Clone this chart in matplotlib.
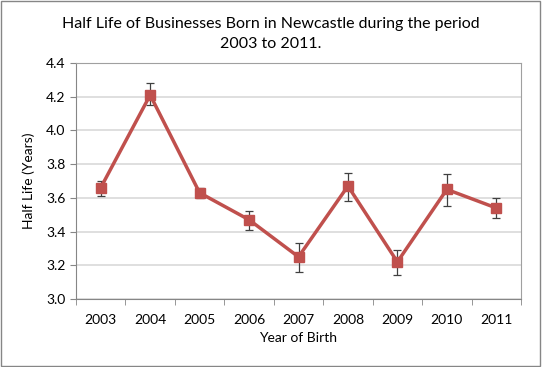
import matplotlib.pyplot as plt
import numpy as np

years = ["2003", "2004", "2005", "2006", "2007", "2008", "2009", "2010", "2011"]
half_life = [3.66, 4.21, 3.63, 3.47, 3.25, 3.67, 3.22, 3.65, 3.54]
err_low = [0.05, 0.06, 0.03, 0.06, 0.09, 0.09, 0.08, 0.10, 0.06]
err_high = [0.04, 0.07, 0.03, 0.05, 0.08, 0.08, 0.07, 0.09, 0.06]

plt.rcParams['font.family'] = ['Lato', 'DejaVu Sans']

fig = plt.figure(figsize=(5.42, 3.67), dpi=100)
ax = fig.add_axes([76 / 542, 1 - 299 / 367, 445 / 542, 236 / 367])

x = np.arange(len(years))
ax.errorbar(x, half_life, yerr=[err_low, err_high], color='#C0504D', lw=2.5,
            marker='s', markersize=7, ecolor='#404040', elinewidth=0.9,
            capsize=3, capthick=0.9, zorder=3)

ax.set_xlim(-0.5, len(years) - 0.5)
ax.set_ylim(3.0, 4.4)
ax.set_yticks(np.arange(3.0, 4.41, 0.2))
ax.set_yticklabels([f"{v:.1f}" for v in np.arange(3.0, 4.41, 0.2)])
ax.set_xticks(x)
ax.set_xticklabels(years)
ax.set_xticks(np.arange(-0.5, len(years), 1), minor=True)
ax.tick_params(axis='x', which='major', length=0, labelsize=10, pad=11)
ax.tick_params(axis='x', which='minor', length=4, color='#868686')
ax.tick_params(axis='y', length=4, color='#868686', labelsize=10)
ax.grid(axis='y', color='#D9D9D9', lw=1.2)
ax.set_axisbelow(True)
for side in ['left', 'bottom']:
    ax.spines[side].set_color('#868686')
for side in ['top', 'right']:
    ax.spines[side].set_color('#A0A0A0')

ax.set_xlabel("Year of Birth", fontsize=10, labelpad=4)
ax.set_ylabel("Half Life (Years)", fontsize=10, labelpad=8)

# title: centred on the whole chart, first line about 416 px wide
t1 = fig.text(0.5, 1 - 24 / 367, "Half Life of Businesses Born in Newcastle during the period",
              ha='center', va='center', fontsize=11)
t2 = fig.text(0.5, 1 - 44 / 367, "2003 to 2011.", ha='center', va='center', fontsize=11)
fig.canvas.draw()
w = t1.get_window_extent().width
fs = 11 * 416 / w
t1.set_fontsize(fs)
t2.set_fontsize(fs)

fig.patches.append(plt.Rectangle((0.002, 0.003), 0.995, 0.994, transform=fig.transFigure,
                                 fill=False, edgecolor='#868686', lw=1))

fig.savefig("out.png", dpi=100)
